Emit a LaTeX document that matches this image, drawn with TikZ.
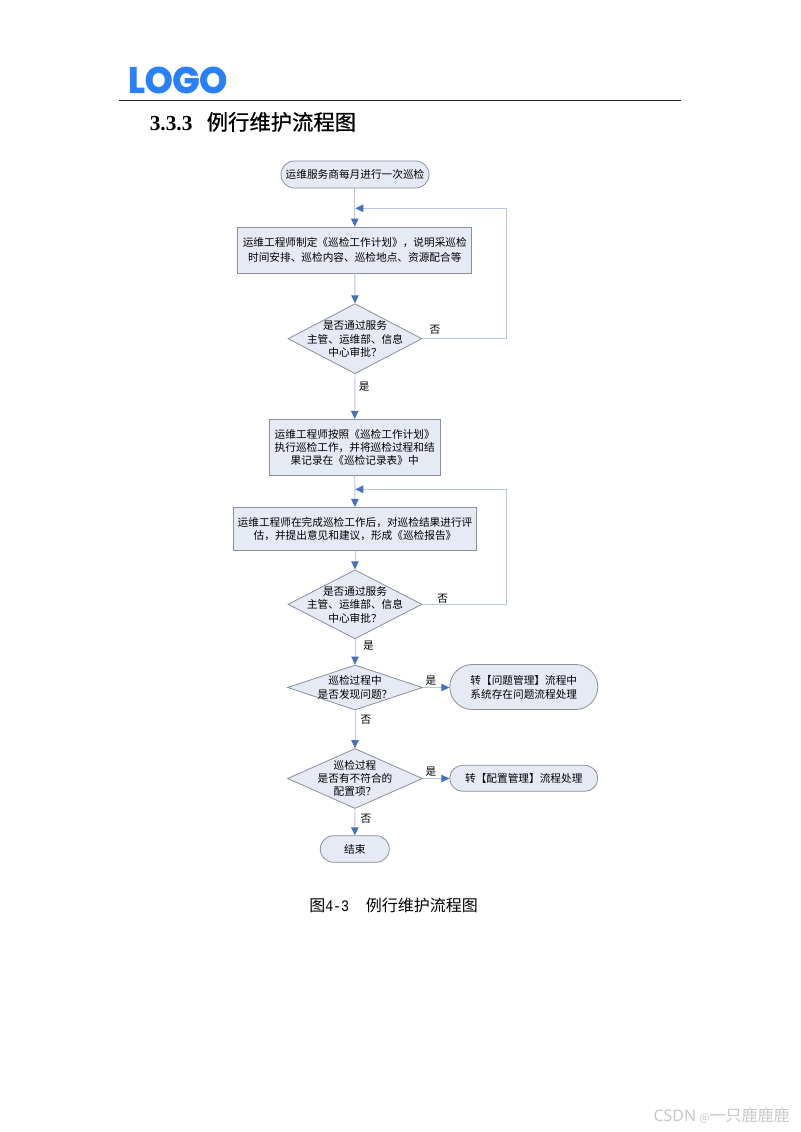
\documentclass[tikz,border=0pt]{standalone}
\usepackage{fontspec}
\usepackage{graphicx}
\usetikzlibrary{arrows.meta,shapes.geometric}
\setmainfont{Noto Sans CJK SC}
\newfontfamily\titlelatin{Liberation Serif}
\newfontfamily\titlecjk[FakeBold=0.7]{Noto Sans CJK SC}
\newfontfamily\halfmono{Liberation Mono}
\newfontfamily\logofont[FakeBold=2]{Poppins}
\newfontfamily\wmfont{Noto Sans}
\definecolor{boxfill}{HTML}{E6EAF5}
\definecolor{boxline}{HTML}{8A8F98}
\definecolor{flowline}{HTML}{B4C8E6}
\definecolor{tipblue}{HTML}{4472C0}
\definecolor{logoblue}{HTML}{2A80F8}
\tikzset{
  x=0.75pt, y=-0.75pt,
  boxsize/.style n args={2}{minimum width=#1*0.75pt, minimum height=#2*0.75pt},
  base/.style={draw=boxline, fill=boxfill, line width=0.6pt, inner sep=0pt, align=center, font=\fontsize{8}{10}\selectfont},
  procbox/.style={base, rectangle},
  pill/.style={base, rectangle},
  decision/.style={base, diamond},
  dectext/.style={inner sep=0pt, align=center, font=\fontsize{8}{10}\selectfont},
  edgetext/.style={inner sep=0pt, font=\fontsize{8}{10}\selectfont},
  flow/.style={draw=flowline, line width=0.7pt, -{Triangle[length=6pt,width=5.6pt,color=tipblue]}},
}
\begin{document}
\begin{tikzpicture}
\useasboundingbox (0,0) rectangle (800,1132);
\fill[white] (0,0) rectangle (800,1132);

% header
\node[inner sep=0pt, text=logoblue] (logo) at (177.5,80) {\resizebox{74.25pt}{19.5pt}{\logofont\bfseries LOGO}};
\coordinate (ruleL) at (119,100.2);
\coordinate (ruleR) at (681,100.2);
\draw[line width=0.85pt, black!85] (ruleL) -- (ruleR);
\node[inner sep=0pt, anchor=base west, font=\fontsize{16}{18}\selectfont\titlelatin\bfseries] (secnum) at (149.5,130) {3.3.3};
\node[inner sep=0pt, anchor=base west, font=\fontsize{16}{18}\selectfont\titlecjk] (sectitle) at (206.5,130) {例行维护流程图};

% nodes
\node[pill, rounded corners=10pt, boxsize={148}{27}] (start) at (355,174.5) {\raisebox{-0.6pt}{运维服务商每月进行一次巡检}};
\node[procbox, boxsize={234}{46}, font=\fontsize{8}{10.7}\selectfont] (b1) at (354.8,250) {运维工程师制定《巡检工作计划》，说明采巡检\\时间安排、巡检内容、巡检地点、资源配合等};
\node[decision, aspect=1.91, boxsize={134}{70}] (d1) at (355,338.7) {};
\node[dectext] (d1t) at (355,339.2) {是否通过服务\\主管、运维部、信息\\中心审批？};
\node[procbox, boxsize={171}{56}] (b2) at (354.7,447.3) {运维工程师按照《巡检工作计划》\\执行巡检工作，并将巡检过程和结\\果记录在《巡检记录表》中};
\node[procbox, boxsize={243}{43}] (b3) at (355,528.8) {运维工程师在完成巡检工作后，对巡检结果进行评\\估，并提出意见和建议，形成《巡检报告》};
\node[decision, aspect=1.95, boxsize={134}{69}] (d2) at (355,604.3) {};
\node[dectext] (d2t) at (355,604.8) {是否通过服务\\主管、运维部、信息\\中心审批？};
\node[decision, aspect=3, boxsize={135}{45}] (d3) at (355,687.5) {};
\node[dectext] (d3t) at (355,687.5) {巡检过程中\\是否发现问题？};
\node[pill, rounded corners=16.8pt, boxsize={148}{45}, font=\fontsize{8}{10.5}\selectfont] (r1) at (523.8,687) {转【问题管理】流程中\\系统存在问题流程处理};
\node[decision, aspect=2.26, boxsize={135}{60}] (d4) at (355,778.5) {};
\node[dectext] (d4t) at (355,778.5) {巡检过程\\是否有不符合的\\配置项？};
\node[pill, rounded corners=9.7pt, boxsize={148}{26}] (r2) at (523.8,778.3) {转【配置管理】流程处理};
\node[pill, rounded corners=9.9pt, boxsize={69}{26.6}] (end) at (354.8,849) {结束};

% connectors
\coordinate (m1) at (355.3,208.3);
\coordinate (c1) at (506.7,208.3);
\coordinate (m2) at (355.3,489.3);
\coordinate (c2) at (506.7,489.3);
\draw[flow] (start.south -| b1.north) -- (b1.north);
\draw[flow] (b1.south) -- (d1.north);
\draw[flow] (d1.south) -- (b2.north);
\draw[flow] (b2.south) -- (b3.north);
\draw[flow] (b3.south) -- (d2.north);
\draw[flow] (d2.south) -- (d3.north);
\draw[flow] (d3.south) -- (d4.north);
\draw[flow] (d4.south) -- (end.north);
\draw[flow] (d3.east) -- (d3.east -| r1.west);
\draw[flow] (d4.east) -- (d4.east -| r2.west);
\draw[flow] (d1.east) -| (c1) -- (m1);
\draw[flow] (d2.east) -| (c2) -- (m2);

% edge labels
\node[edgetext] (e1) at (435,330) {否};
\node[edgetext] (e2) at (364.3,386.5) {是};
\node[edgetext] (e3) at (442.7,599) {否};
\node[edgetext] (e4) at (368.5,645.5) {是};
\node[edgetext] (e5) at (431,680.5) {是};
\node[edgetext] (e6) at (366,720) {否};
\node[edgetext] (e7) at (431,771.8) {是};
\node[edgetext] (e8) at (366,818.5) {否};

% caption
\node[inner sep=0pt, anchor=west, font=\fontsize{12}{14}\selectfont] (cap) at (309,905) {图\scalebox{0.83}[1]{\halfmono 4-3}\hspace{12.5pt}例行维护流程图};

% watermark
\node[inner sep=0pt, anchor=east, text=black!22, font=\fontsize{12}{14}\selectfont] (wm) at (790,1116) {{\wmfont CSDN}\hspace{2.5pt}{\fontsize{8}{10}\selectfont @}一只鹿鹿鹿};
\end{tikzpicture}
\end{document}
